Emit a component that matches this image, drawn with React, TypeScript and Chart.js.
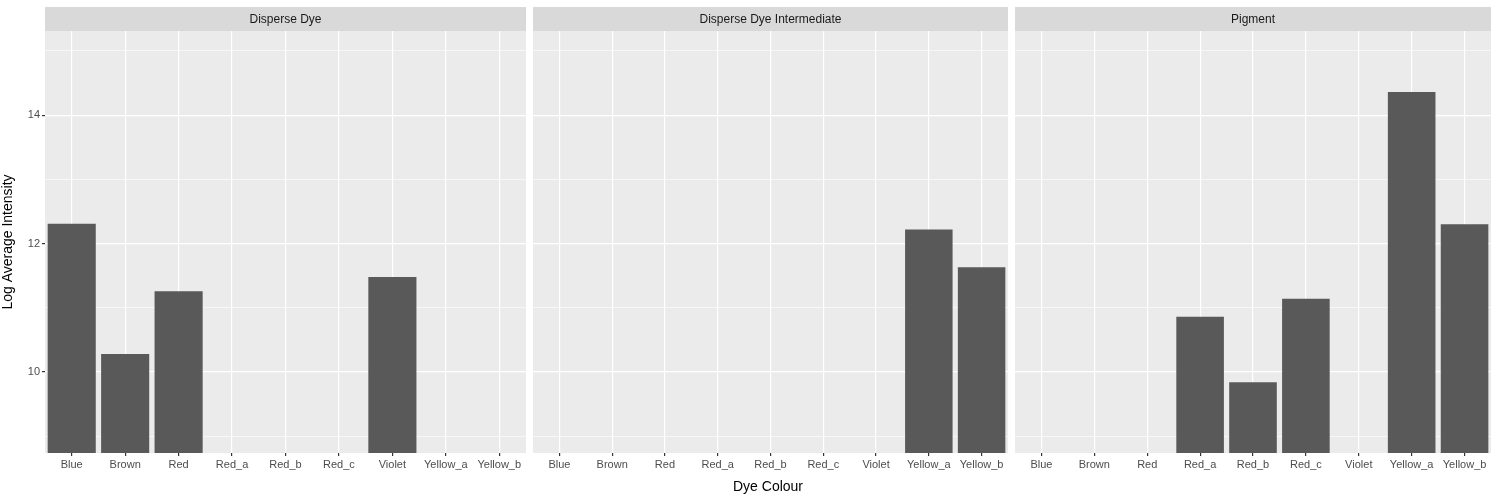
import { useEffect, useRef } from 'react';
import { Chart, registerables } from 'chart.js';

Chart.register(...registerables);

const CATEGORIES = ['Blue', 'Brown', 'Red', 'Red_a', 'Red_b', 'Red_c', 'Violet', 'Yellow_a', 'Yellow_b'];
const PANELS = ['Disperse Dye', 'Disperse Dye Intermediate', 'Pigment'];
const DISPERSE_DYE = [12.31, 10.28, 11.26, null, null, null, 11.48, null, null];
const INTERMEDIATE = [null, null, null, null, null, null, null, 12.22, 11.63];
const PIGMENT = [null, null, null, 10.86, 9.84, 11.14, null, 14.36, 12.30];
const SERIES = [DISPERSE_DYE, INTERMEDIATE, PIGMENT];

const FONT = 'Liberation Sans, Arial, sans-serif';

const panelPlugin = {
  id: 'panel',
  beforeDraw(chart: any) {
    const { ctx, chartArea: a } = chart;
    ctx.save();
    ctx.fillStyle = '#EBEBEB';
    ctx.fillRect(a.left, a.top, a.right - a.left, a.bottom - a.top);
    ctx.fillStyle = '#D9D9D9';
    ctx.fillRect(a.left, 7, a.right - a.left, a.top - 7);
    ctx.fillStyle = '#1A1A1A';
    ctx.font = `12px ${FONT}`;
    ctx.textAlign = 'center';
    ctx.textBaseline = 'middle';
    ctx.fillText(chart.options.plugins.panel.label, (a.left + a.right) / 2, (7 + a.top) / 2 + 1);
    ctx.restore();
  },
};

function Panel({ idx }: { idx: number }) {
  const ref = useRef<HTMLCanvasElement>(null);
  useEffect(() => {
    if (!ref.current) return;
    const first = idx === 0;
    const chart = new Chart(ref.current, {
      type: 'bar',
      data: {
        labels: CATEGORIES,
        datasets: [{
          data: SERIES[idx] as any,
          backgroundColor: '#595959',
          categoryPercentage: 0.9,
          barPercentage: 1,
          base: 0,
        } as any],
      },
      plugins: [panelPlugin],
      options: {
        animation: false,
        responsive: false,
        layout: { padding: { top: 31, right: idx === 0 ? 1 : 0 } },
        plugins: { legend: { display: false }, tooltip: { enabled: false }, panel: { label: PANELS[idx] } } as any,
        scales: {
          x: {
            grid: { offset: false, color: '#FFFFFF', lineWidth: 1.2, drawTicks: true, tickLength: 3, tickColor: '#333333' },
            border: { display: false },
            ticks: { color: '#4D4D4D', font: { family: FONT, size: 11 }, maxRotation: 0, autoSkip: false, padding: 2 },
            afterFit: (s: any) => { s.height = 49; },
          },
          y: {
            min: 8.74,
            max: 15.31,
            border: { display: false },
            grid: {
              color: '#FFFFFF',
              lineWidth: (c: any) => (c.tick && c.tick.value % 2 === 0 ? 1.2 : 0.6),
              drawTicks: first,
              tickLength: 3,
              tickColor: (c: any) => (c.tick && c.tick.value % 2 === 0 ? '#333333' : 'rgba(0,0,0,0)'),
            },
            ticks: {
              display: first,
              stepSize: 1,
              includeBounds: false,
              color: '#4D4D4D',
              font: { family: FONT, size: 11 },
              padding: 2,
              callback: (v: any) => (v % 2 === 0 ? String(v) : ''),
            },
            title: { display: first, text: 'Log Average Intensity', color: '#000', font: { family: FONT, size: 14 }, padding: 0 },
            afterFit: (s: any) => { s.width = first ? 45 : 0; },
          },
        },
      } as any,
    });
    return () => chart.destroy();
  }, [idx]);
  const pos = [[0, 527], [533, 475], [1015, 476]][idx];
  return <canvas ref={ref} width={pos[1]} height={502}
    style={{ position: 'absolute', left: pos[0], top: 0, width: pos[1], height: 502 }} />;
}

export default function App() {
  return (
    <div style={{ position: 'fixed', left: 0, top: 0, width: 1500, height: 502, background: '#FFFFFF' }}>
      <Panel idx={0} />
      <Panel idx={1} />
      <Panel idx={2} />
      <div style={{ position: 'absolute', left: 45, width: 1446, top: 478, textAlign: 'center',
        fontFamily: FONT, fontSize: 14, color: '#000' }}>Dye Colour</div>
    </div>
  );
}
